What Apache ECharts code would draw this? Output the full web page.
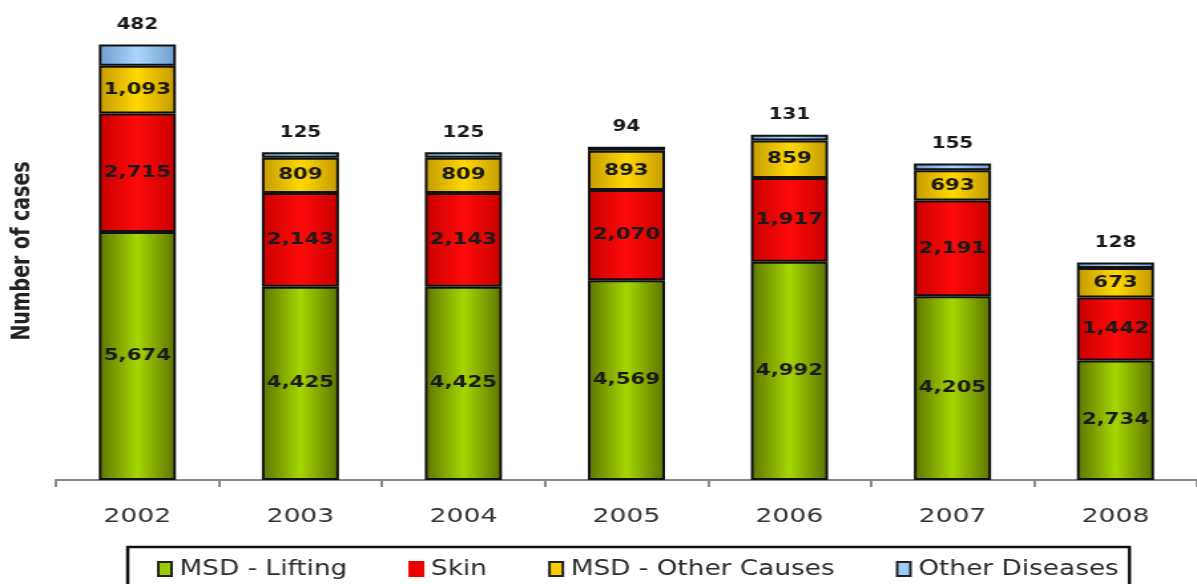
<!DOCTYPE html>
<html>
<head>
<meta charset="utf-8">
<script src="https://cdn.jsdelivr.net/npm/echarts@6/dist/echarts.min.js"></script>
<style>
    html, body { margin: 0; padding: 0; background: #fff; overflow: hidden; }
    /* the source picture is stretched sideways, so draw at 900 wide and stretch it */
    #main { width: 900px; height: 584px; transform: scaleX(1.33); transform-origin: 0 0; }
</style>
</head>
<body>
<div id="main"></div>
<script>
var years = ['2002', '2003', '2004', '2005', '2006', '2007', '2008'];
var msdLifting = [5674, 4425, 4425, 4569, 4992, 4205, 2734];
var skin = [2715, 2143, 2143, 2070, 1917, 2191, 1442];
var msdOther = [1093, 809, 809, 893, 859, 693, 673];
var otherDiseases = [482, 125, 125, 94, 131, 155, 128];

function fmt(v) {
    return String(v).replace(/\B(?=(\d{3})+(?!\d))/g, ',');
}

function grad(edge, mid) {
    return new echarts.graphic.LinearGradient(0, 0, 1, 0, [
        {offset: 0, color: edge},
        {offset: 0.5, color: mid},
        {offset: 1, color: edge}
    ]);
}

function bar(name, data, edge, mid, labelPos, size) {
    return {
        name: name,
        type: 'bar',
        stack: 'all',
        barWidth: 58,
        data: data,
        itemStyle: {
            color: grad(edge, mid),
            borderColor: '#111',
            borderWidth: 2
        },
        label: {
            show: true,
            position: labelPos || 'inside',
            distance: 12,
            fontFamily: 'DejaVu Sans',
            fontWeight: 'bold',
            fontSize: size || 16,
            color: '#1a1a1a',
            formatter: function (p) { return fmt(p.value); }
        },
        emphasis: {disabled: true}
    };
}

var myChart = echarts.init(document.getElementById('main'));

var option = {
    animation: false,
    color: ['#99cc00', '#ff0000', '#ffcc00', '#99ccff'],
    grid: {
        left: 42,
        width: 862,
        top: 43,
        height: 437
    },
    graphic: [{
        type: 'text',
        x: 17,
        y: 251,
        rotation: Math.PI / 2,
        style: {
            text: 'Number of cases',
            align: 'center',
            verticalAlign: 'middle',
            fontFamily: 'DejaVu Sans',
            fontWeight: 'bold',
            fontSize: 19,
            fill: '#222'
        }
    }],
    legend: {
        left: 96,
        top: 547,
        padding: [11, 8, 8, 22],
        borderColor: '#111',
        borderWidth: 2.5,
        itemGap: 46,
        itemWidth: 10,
        itemHeight: 14,
        icon: 'rect',
        textStyle: {
            fontFamily: ['DejaVu Sans Condensed', 'DejaVu Sans'],
            fontSize: 22,
            color: '#2a2a2a',
            padding: [0, 0, 0, 1]
        },
        data: [
            {name: 'MSD - Lifting', itemStyle: {color: '#99cc00', borderColor: '#222', borderWidth: 2}},
            {name: 'Skin', itemStyle: {color: '#ee0000', borderColor: '#ee0000', borderWidth: 2}},
            {name: 'MSD - Other Causes', itemStyle: {color: '#ffcc00', borderColor: '#222', borderWidth: 2}},
            {name: 'Other Diseases', itemStyle: {color: '#99ccff', borderColor: '#222', borderWidth: 2}}
        ]
    },
    xAxis: {
        type: 'category',
        data: years,
        axisLine: {lineStyle: {color: '#8a8a8a', width: 2}},
        axisTick: {show: true, length: 7, lineStyle: {color: '#8a8a8a', width: 2}},
        axisLabel: {
            margin: 27,
            fontFamily: 'DejaVu Sans',
            fontSize: 20,
            color: '#333'
        }
    },
    yAxis: {
        type: 'value',
        min: 0,
        max: 10000,
        axisLine: {show: false},
        axisTick: {show: false},
        axisLabel: {show: false},
        splitLine: {show: false}
    },
    series: [
        bar('MSD - Lifting', msdLifting, '#5c7400', '#a6d600'),
        bar('Skin', skin, '#c80000', '#ff0a0a'),
        bar('MSD - Other Causes', msdOther, '#c49a00', '#ffd800'),
        bar('Other Diseases', otherDiseases, '#6f9ccc', '#aad6ff', 'top', 15)
    ]
};

myChart.setOption(option);
</script>
</body>
</html>
